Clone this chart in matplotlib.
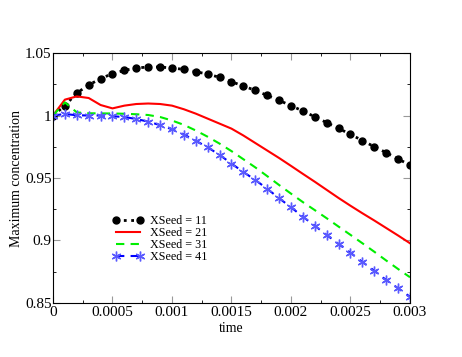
import numpy as np
import matplotlib
matplotlib.use("Agg")
import matplotlib.pyplot as plt
from matplotlib.ticker import MultipleLocator, FuncFormatter

plt.rcParams['font.family'] = ['Liberation Serif', 'DejaVu Serif']

# time samples (every 1e-4)
time = [i * 1e-4 for i in range(31)]

seed11 = [1.0, 1.0079, 1.018, 1.0244, 1.0295, 1.0335, 1.0361, 1.038, 1.0388, 1.0388,
          1.038, 1.0369, 1.035, 1.0332, 1.0305, 1.027, 1.0236, 1.0201, 1.0161, 1.0121,
          1.0079, 1.0036, 0.999, 0.9943, 0.9897, 0.9849, 0.980, 0.975, 0.9703, 0.9652,
          0.9604]
seed21 = [1.0, 1.0127, 1.0153, 1.014, 1.0084, 1.0057, 1.0079, 1.0092, 1.0096, 1.0092,
          1.0079, 1.0050, 1.0015, 0.9975, 0.9935, 0.9895, 0.9840, 0.9780, 0.9720, 0.9660,
          0.9597, 0.9533, 0.9470, 0.9405, 0.9340, 0.9278, 0.9218, 0.9160, 0.9100, 0.9040,
          0.8978]
seed31 = [1.0, 1.0105, 1.0025, 1.0018, 1.0017, 1.0016, 1.0014, 1.0010, 1.0004, 0.9988,
          0.9960, 0.9925, 0.9880, 0.9830, 0.9775, 0.9715, 0.9650, 0.9585, 0.9515, 0.9444,
          0.9375, 0.9307, 0.9243, 0.9178, 0.9111, 0.9045, 0.8978, 0.8910, 0.8840, 0.8772,
          0.8706]
seed41 = [1.0, 1.0012, 1.0002, 1.0, 1.0, 0.9994, 0.9988, 0.9972, 0.9951, 0.9923,
          0.989, 0.9848, 0.9798, 0.9745, 0.9685, 0.9615, 0.9548, 0.9484, 0.9414, 0.9338,
          0.9266, 0.919, 0.9118, 0.9044, 0.8972, 0.8902, 0.8828, 0.8758, 0.8684, 0.8618,
          0.855]

fig = plt.figure(figsize=(4.62, 3.57), dpi=100)
ax = fig.add_axes([0.1147, 0.1513, 0.7727, 0.7002])

ax.plot(time, seed11, color='black', linestyle=':', lw=2, marker='o', ms=5,
        label='XSeed = 11')
ax.plot(time, seed21, color='red', linestyle='-', lw=1.5, label='XSeed = 21')
ax.plot(time, seed31, color='#00ee00', linestyle=(0, (4, 3)), lw=1.5, label='XSeed = 31')
ax.plot(time, seed41, color='blue', linestyle=(0, (4, 3)), lw=1.5, marker=(6, 2, 0),
        ms=7, mec='#5a5aff', mew=1, label='XSeed = 41')

ax.set_xlim(0, 0.003)
ax.set_ylim(0.85, 1.05)
ax.xaxis.set_major_locator(MultipleLocator(0.0005))
ax.xaxis.set_minor_locator(MultipleLocator(0.00025))
ax.yaxis.set_major_locator(MultipleLocator(0.05))
ax.yaxis.set_minor_locator(MultipleLocator(0.025))
fmt = FuncFormatter(lambda v, p: '%g' % round(v, 6))
ax.xaxis.set_major_formatter(fmt)
ax.yaxis.set_major_formatter(fmt)
ax.tick_params(which='both', direction='in', top=True, right=True, labelsize=11)
ax.tick_params(which='major', length=5, color='#999999')
ax.tick_params(which='minor', length=2.5)
ax.tick_params(axis='x', pad=2)
ax.tick_params(axis='y', pad=1)

ax.set_xlabel('time', fontsize=10)
ax.set_ylabel('Maximum concentration', fontsize=10)
ax.xaxis.set_label_coords(0.5, -0.076)
ax.yaxis.set_label_coords(-0.084, 0.5)

ax.legend(loc='upper left', bbox_to_anchor=(0.165, 0.352), frameon=False, fontsize=8.7,
          numpoints=2, handlelength=2.6, handletextpad=0.55, labelspacing=0.0,
          borderpad=0, borderaxespad=0)

fig.savefig('out.png', dpi=100)
